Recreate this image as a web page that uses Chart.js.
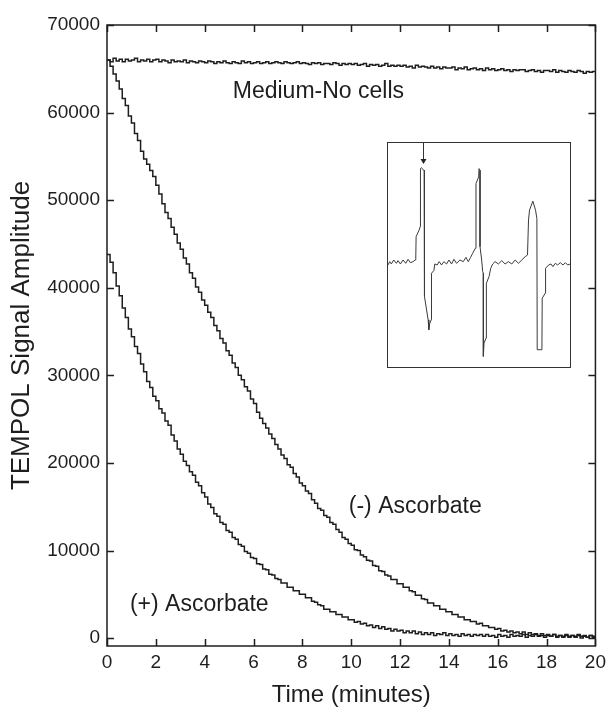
<!DOCTYPE html>
<html><head><meta charset="utf-8">
<script src="https://cdn.jsdelivr.net/npm/chart.js@4"></script>
<style>
html,body{margin:0;padding:0;background:#fff;}
#wrap{position:relative;width:611px;height:710px;overflow:hidden;}
#main{position:absolute;left:0;top:0;}
#insetBox{position:absolute;left:387px;top:142px;width:184px;height:226px;}
</style></head><body>
<div id="wrap"><canvas id="main" width="611" height="710"></canvas>
<div id="insetBox"><canvas id="inset" width="184" height="226"></canvas></div></div>
<script>
// ---- data ----
const timeMin = [
0,0.125,0.25,0.375,0.5,0.625,0.75,0.875,
1,1.125,1.25,1.375,1.5,1.625,1.75,1.875,
2,2.125,2.25,2.375,2.5,2.625,2.75,2.875,
3,3.125,3.25,3.375,3.5,3.625,3.75,3.875,
4,4.125,4.25,4.375,4.5,4.625,4.75,4.875,
5,5.125,5.25,5.375,5.5,5.625,5.75,5.875,
6,6.125,6.25,6.375,6.5,6.625,6.75,6.875,
7,7.125,7.25,7.375,7.5,7.625,7.75,7.875,
8,8.125,8.25,8.375,8.5,8.625,8.75,8.875,
9,9.125,9.25,9.375,9.5,9.625,9.75,9.875,
10,10.125,10.25,10.375,10.5,10.625,10.75,10.875,
11,11.125,11.25,11.375,11.5,11.625,11.75,11.875,
12,12.125,12.25,12.375,12.5,12.625,12.75,12.875,
13,13.125,13.25,13.375,13.5,13.625,13.75,13.875,
14,14.125,14.25,14.375,14.5,14.625,14.75,14.875,
15,15.125,15.25,15.375,15.5,15.625,15.75,15.875,
16,16.125,16.25,16.375,16.5,16.625,16.75,16.875,
17,17.125,17.25,17.375,17.5,17.625,17.75,17.875,
18,18.125,18.25,18.375,18.5,18.625,18.75,18.875,
19,19.125,19.25,19.375,19.5,19.625,19.75,19.875,
20];

const mediumNoCells = [
66000,65800,66200,65900,66100,65800,66100,65900,
66000,66200,65800,66000,65900,66100,65800,66000,
66100,65800,66000,65900,65700,66000,65800,65900,
65800,66000,65700,65900,65800,65700,65900,65800,
65700,65900,65800,65600,65800,65700,65900,65700,
65600,65800,65700,65600,65900,65700,65800,65600,
65700,65800,65600,65700,65800,65600,65700,65800,
65700,65600,65800,65700,65600,65700,65800,65600,
65700,65600,65500,65700,65600,65700,65500,65600,
65600,65500,65700,65600,65400,65600,65500,65600,
65500,65600,65400,65500,65600,65300,65500,65400,
65500,65300,65400,65600,65300,65400,65300,65400,
65300,65400,65200,65300,65100,65400,65200,65300,
65200,65100,65300,65100,65200,65000,65200,65100,
65100,65200,64900,65100,65000,65200,64900,65000,
65100,64900,65000,64800,65100,64900,65000,64800,
64900,65000,64800,64900,64700,64900,64800,64900,
64900,64700,64800,64900,64700,64800,64600,64800,
64800,64700,64900,64600,64800,64700,64600,64800,
64700,64600,64800,64700,64500,64700,64600,64700,
64700];

const minusAscorbate = [
66000,65300,64400,63600,62700,61600,60800,59600,
58800,57600,56800,55600,54700,54100,53400,52700,
51700,50700,49600,48600,47900,46900,46100,45100,
44400,43400,42700,41700,41100,40100,39500,38600,
38000,37200,36600,35700,35100,34200,33700,32800,
32300,31400,30900,30000,29500,28700,28200,27300,
26800,25800,25100,24500,24000,23300,22800,22100,
21600,20900,20500,19800,19500,18800,18400,17700,
17400,16800,16500,15800,15400,14800,14600,14000,
13800,13200,13000,12400,12100,11500,11300,10800,
10600,10100,10000,9500,9300,8900,8800,8300,
8200,7700,7600,7200,7100,6700,6700,6200,
6200,5800,5800,5400,5300,4900,4900,4500,
4400,4000,4000,3700,3700,3300,3300,3000,
3000,2700,2700,2400,2400,2100,2100,1900,
1900,1600,1700,1400,1400,1200,1200,1000,
1100,800,900,700,800,600,700,500,
700,400,600,400,500,300,500,300,
400,200,400,200,300,100,400,200,
300,100,300,0,200,100,300,100,
200];

const plusAscorbate = [
43800,42900,41700,40200,39100,37700,36600,35300,
34400,33300,32500,31300,30400,29300,28600,27600,
27100,26200,25700,24800,24300,23200,22500,21600,
21000,20200,19700,19000,18600,17800,17400,16600,
16100,15300,14900,14200,13900,13200,13000,12300,
12100,11500,11300,10700,10500,9900,9700,9200,
9100,8500,8400,7900,7800,7300,7200,6800,
6700,6300,6300,5800,5800,5400,5400,5000,
5000,4600,4600,4200,4100,3800,3700,3300,
3300,3000,3000,2700,2700,2400,2400,2100,
2100,1800,1900,1600,1700,1400,1500,1200,
1400,1100,1300,1000,1100,800,1000,800,
900,600,800,600,800,500,700,400,
600,400,600,300,500,400,600,300,
500,300,400,200,500,300,400,200,
400,300,400,200,400,200,300,100,
400,200,300,100,400,200,300,200,
400,100,300,200,400,200,300,100,
300,200,400,100,300,200,300,100,
300,200,400,200,300,100,300,200,
300];

const xTicks = [0,2,4,6,8,10,12,14,16,18,20];
const yTicks = [0,10000,20000,30000,40000,50000,60000,70000];

// inset EPR spectrum (arbitrary field units, arbitrary intensity)
const insetField = [25,30,35,42,50,55,62,70,78,85,92,100,106,108,109,118,121,122,125,131,133,134,145,147,150,154,155,162,165,172,178,185,192,200,207,215,222,230,240,250,258,265,272,278,286,288,296,297,300,300,305,308,310,310,312,318,319,327,332,338,345,355,365,375,385,395,405,415,425,435,442,445,448,458,466,470,471,485,486,495,496,505,512,518,525,532,540,548,555,562,570];
const insetSignal = [0,10,3,15,5,13,3,15,5,17,7,10,15,20,85,105,115,290,293,285,285,-95,-165,-195,-175,-165,-25,-17,3,0,10,0,10,3,15,3,17,5,15,10,23,10,23,35,50,245,265,290,285,55,15,-20,-25,-275,-235,-220,-55,-35,-10,3,10,3,13,3,10,3,15,5,15,25,30,135,165,192,165,140,-255,-255,-100,-85,-10,0,3,-5,5,0,7,0,7,0,3];
const insetArrowField = 130;

const annotations = [
  {text:'Medium-No cells', x:5.15, y:62400},
  {text:'(-) Ascorbate', x:9.9, y:14970},
  {text:'(+) Ascorbate', x:0.94, y:3770}
];

// ---- drawing ----
const FONT = "'Liberation Sans', Arial, Helvetica, sans-serif";
const INK = '#1e1e1e';
const toXY = ys => timeMin.map((t,i)=>({x:t, y:ys[i]}));

const framePlugin = {
  id:'frame',
  afterDatasetsDraw(chart){
    const {ctx, chartArea:a, scales:{x,y}} = chart;
    ctx.save();
    ctx.strokeStyle = INK; ctx.lineWidth = 1.5;
    ctx.strokeRect(a.left, a.top, a.right-a.left, a.bottom-a.top);
    const L = 7;
    ctx.beginPath();
    xTicks.forEach(v=>{
      const px = Math.round(x.getPixelForValue(v))+0.5;
      ctx.moveTo(px, a.bottom); ctx.lineTo(px, a.bottom-L);
      ctx.moveTo(px, a.top); ctx.lineTo(px, a.top+L);
    });
    yTicks.forEach(v=>{
      const py = Math.round(y.getPixelForValue(v))+0.5;
      ctx.moveTo(a.left, py); ctx.lineTo(a.left+L, py);
      ctx.moveTo(a.right, py); ctx.lineTo(a.right-L, py);
    });
    ctx.stroke();
    ctx.fillStyle = INK;
    ctx.font = '23px ' + FONT;
    ctx.textAlign = 'left'; ctx.textBaseline = 'middle';
    annotations.forEach(an=>{
      ctx.fillText(an.text, x.getPixelForValue(an.x), y.getPixelForValue(an.y));
    });
    ctx.restore();
  }
};

const lineDs = (label, ys) => ({label, data: toXY(ys), stepped:true, borderColor:INK, borderWidth:1.5, pointRadius:0, fill:false, tension:0});

new Chart(document.getElementById('main'), {
  type:'line',
  data:{datasets:[
    lineDs('Medium-No cells', mediumNoCells),
    lineDs('(-) Ascorbate', minusAscorbate),
    lineDs('(+) Ascorbate', plusAscorbate)
  ]},
  options:{
    responsive:false, animation:false, devicePixelRatio:1,
    layout:{padding:{top:25, right:15, left:0, bottom:0}},
    plugins:{legend:{display:false}, tooltip:{enabled:false}},
    scales:{
      x:{type:'linear', min:0, max:20,
        afterBuildTicks:s=>{s.ticks = xTicks.map(v=>({value:v}));},
        afterFit:s=>{s.height = 64;},
        grid:{display:false, drawTicks:false}, border:{display:false},
        ticks:{padding:5, color:INK, font:{family:FONT, size:19}, maxRotation:0, autoSkip:false, callback:v=>String(v)},
        title:{display:true, text:'Time (minutes)', color:INK, font:{family:FONT, size:24}, padding:{top:0, bottom:0}}
      },
      y:{type:'linear', min:-900, max:70000,
        afterBuildTicks:s=>{s.ticks = yTicks.map(v=>({value:v}));},
        afterFit:s=>{s.width = 107;},
        grid:{display:false, drawTicks:false}, border:{display:false},
        ticks:{padding:7, color:INK, font:{family:FONT, size:19}, autoSkip:false, callback:v=>String(v)},
        title:{display:true, text:'TEMPOL Signal Amplitude', color:INK, font:{family:FONT, size:26}, padding:{top:6, bottom:0}}
      }
    }
  },
  plugins:[framePlugin]
});

const insetPlugin = {
  id:'insetFrame',
  afterDatasetsDraw(chart){
    const {ctx, chartArea:a, scales:{x,y}} = chart;
    ctx.save();
    ctx.strokeStyle = '#333'; ctx.lineWidth = 1;
    ctx.strokeRect(a.left+0.5, a.top+0.5, a.right-a.left-1, a.bottom-a.top-1);
    const ax = Math.round(x.getPixelForValue(insetArrowField))+0.5;
    ctx.beginPath(); ctx.moveTo(ax, a.top); ctx.lineTo(ax, a.top+19); ctx.stroke();
    ctx.fillStyle = '#222';
    ctx.beginPath(); ctx.moveTo(ax-3, a.top+17); ctx.lineTo(ax+3, a.top+17); ctx.lineTo(ax, a.top+22); ctx.closePath(); ctx.fill();
    ctx.restore();
  }
};

new Chart(document.getElementById('inset'), {
  type:'line',
  data:{datasets:[{data: insetField.map((f,i)=>({x:f, y:insetSignal[i]})), borderColor:'#3a3a3a', borderWidth:1, pointRadius:0, fill:false, tension:0}]},
  options:{
    responsive:false, animation:false, devicePixelRatio:1,
    layout:{padding:0},
    plugins:{legend:{display:false}, tooltip:{enabled:false}},
    scales:{
      x:{type:'linear', display:false, min:22, max:572},
      y:{type:'linear', display:false, min:-310, max:370}
    }
  },
  plugins:[insetPlugin]
});
</script>
</body></html>
